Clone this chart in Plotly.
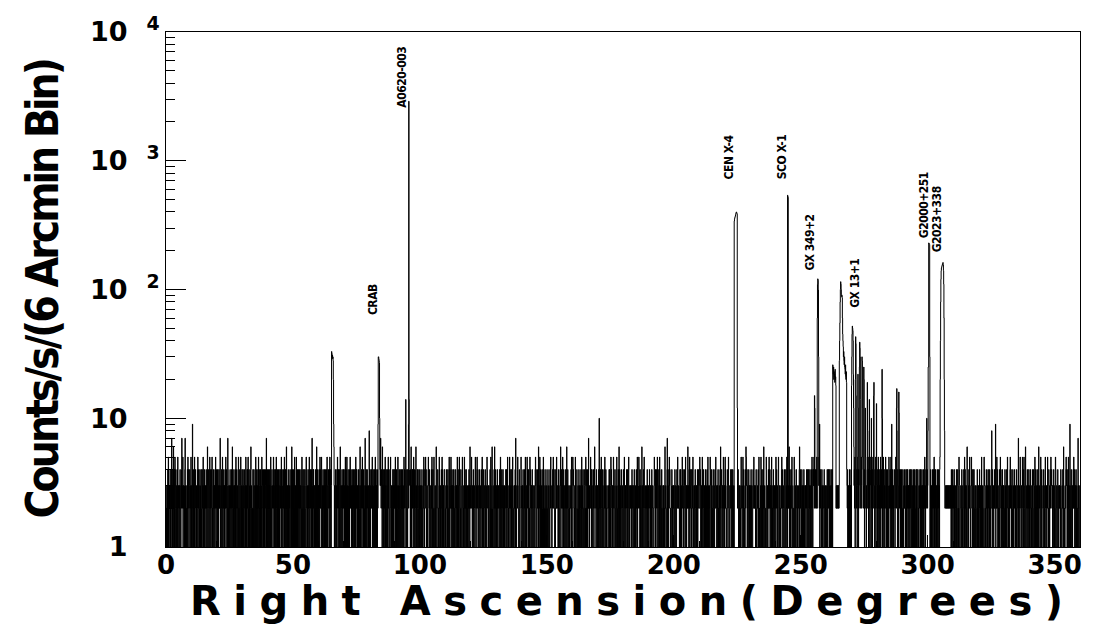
import math
import plotly.graph_objects as go

# ---- data: counts per 6-arcmin (0.1 deg) bin; one row per 10 degrees ----
noise_rows = [
    "3212331425 1232314213 2371421316 3241251243 2132415232 1323142213 2473235132 3213471312 2132415243 1234213253",  # 0
    "1321932413 2153124321 3212451423 3124213342 1342315213 2413223142 3126312431 2251423124 3512132413 2314253124",  # 10
    "2314213142 3247213124 2451232413 1324251243 2137412312 3142312241 3621312423 1324151342 2312451213 4213521314",  # 20
    "3124213243 1231523124 2415213431 3124612312 2143124213 3215231423 1342512134 2413213524 3121432413 2431371234",  # 30
    "1324132413 2153213432 3125231241 2413521314 3214132142 2341521432 1324215124 3142613213 2413213243 3124162412",  # 40
    "2413215431 3125132412 1423142313 2431253124 3124213432 1253213124 2314521342 3142173124 2413213214 3216231423",  # 50
    "1324215243 2451213142 3124132413 2143521324 3214251243 1324213124 2431321432 3124253124 2143126413 3214231342",  # 60
    "2413215124 3152312431 2314253243 1324132142 3214231524 2413213142 3124621324 2145231413 3124713243 1342312132",  # 70
    "8124213243 2451321342 3142512413 2314213124 1324213243 3162312413 2415213124 3124152432 2143521312 3214231423",  # 80
    "2415213142 3125231243 1342132413 2413213524 3124132142 2143215243 3214261324 2431253142 3124621324 2143213413",  # 90
    "2231413322 1342251214 3352421231 2245331423 1223142531 3421253312 2132641122 4312215231 3122431514 2313214432",  # 100
    "1233241321 4221353142 2351324231 3142221344 2132314512 3214153321 2431123531 3122152413 2341322131 1324231623",  # 110
    "3225431322 1423321253 2132452341 3311242132 2243151213 4123321421 2321543232 1332214215 3213621132 2142613241",  # 120
    "3123241132 2311432513 1242331421 3213122341 2431253312 1325413243 3141253112 2323141732 1232453221 3421122353",  # 130
    "2132314221 3241153132 1352431241 2215342132 3142213321 2231453422 1342231621 3253142231 2421335142 1233124312",  # 140
    "3212431132 2143253321 1324352243 3121243252 2332141331 1243613422 3251314132 2132413261 3241123312 1322341531",  # 150
    "2253432121 3152213341 1233124213 2321431522 3142212431 2215341221 4132723312 2352431421 1324213362 3221142313",  # 160
    "3121422313 2413521142 1322143251 3241213322 2132341412 1353421231 3254122341 2231354212 3142631423 1223413321",  # 170
    "2341253132 3122431241 1452213323 2213142331 3321421213 1242315122 2354231421 3122613213 4215321132 2132241331",  # 180
    "1323421231 3214123322 2135432413 3422153241 1231542312 2143221331 3312162231 1224713412 3253421121 2342131232",  # 190
    "3122413321 1342253232 2213431421 3125324312 2432135213 1323264231 3251423341 2142352213 1332421131 3214123422",  # 200
    "2253341321 3152212431 1323142213 2431521322 3125431241 2213342131 1342253321 3231421213 2142613342 1323154231",  # 210
    "3252431122 2341253321 1322431242 3142213132 2213341421 1234213312 3121352231 2352413122 1432653341 3221142313",  # 220
    "2132413321 1342253232 3213421123 2241351212 1325413431 3142612321 2213541132 1324253241 3231451312 2142313221",  # 230
    "3252431132 1453213321 2132452341 3321143212 2413253132 1232613421 3142253312 2213541231 1342213122 3221461342",  # 240
    "2312431321 3142213232 1324313421 2431324213 3241532143 4352413243 3425242532 4352413243 3124213232 2143213312",  # 250
    "3212431342 2431342132 3142413254 5454545452 3232332323 2354545454 5454545454 5454545454 5432413213 2142313241",  # 260
    "2314325143 3425134253 2413523142 3524132453 2431543213 3142354213 2314253142 3215432142 2413524313 3142351423",  # 270
    "2314253142 3142513243 2413253142 3124523413 2143213542 3214253132 2413213243 3124532143 2143213524 3214231432",  # 280
    "2143312242 3221413142 2413231324 1342312431 2314133142 3122431412 2431213324 3142321413 2314213252 3124252342",  # 290
    "3122313241 2413213142 3124251412 2413213142 3124231412 2413213142 3232232323 3223232323 3232322323 2314213241",  # 300
    "1322413212 3214213341 2135431122 3312421231 2243151423 1321362212 3142253321 2253431242 1342213123 3221341231",  # 310
    "2312431132 3152213321 1353412213 2241331342 3121423122 2283142231 1324223912 3252431321 2143125342 1322413231",  # 320
    "3221431322 1423521213 2132452341 3311242132 2243131213 4123321721 2321543232 1335214215 3213461132 2142313241",  # 330
    "3122431321 2142213431 1352142213 2413321622 3212451241 1223342131 2345213321 3253421213 1242353342 2313124231",  # 340
    "2135413321 1342213232 3213421123 2241361212 1322453431 3142512321 9213341132 1324253241 3231421312 2172313221",  # 350
]

# runs of bins above the noise: first bin RA (deg) and the counts of consecutive 0.1-deg bins
src_start = [65.2, 83.5, 94.4, 95.5, 170.6, 223.8, 244.8, 255.4, 256.5, 257.4,
             262.6, 265.2, 270.0, 271.5, 272.5, 273.1, 274.1, 274.8, 275.4, 276.2,
             277.0, 277.8, 278.7, 279.8, 282.0, 285.8, 287.7, 288.6, 299.6,
             300.1, 304.8]
src_counts = [
    [33, 32, 30, 31, 29, 30, 28, 20, 9, 6],
    [9, 30, 30, 29, 28, 27, 10, 4, 3, 3, 7],
    [14],
    [9, 2900, 14],
    [10],
    [340, 352, 360, 366, 372, 380, 388, 395, 400, 398, 392, 385, 12],
    [540, 530, 520],
    [15, 12],
    [60, 110, 121, 118, 100, 30],
    [9],
    [26, 24, 22, 25, 20, 23, 21, 22, 19, 24, 20, 21, 18],
    [28, 40, 55, 80, 100, 115, 110, 100, 92, 88, 90, 86, 60, 45, 40, 36, 30, 33, 28, 26,
     30, 25, 24, 22, 26, 21, 20, 23, 19],
    [18, 30, 45, 52, 50, 48, 40, 22, 12, 6],
    [20, 43, 38, 15],
    [22, 12],
    [25, 39, 35, 30, 14],
    [30, 28, 12],
    [25, 20],
    [12],
    [19, 8],
    [14],
    [10],
    [15, 19],
    [13],
    [24, 10],
    [9],
    [12, 17, 8],
    [16, 11],
    [10],
    [8, 25, 25, 230, 228, 226, 224, 30],
    [5, 20, 40, 80, 120, 140, 147, 150, 152, 155, 158, 160, 162, 155, 140, 110, 60, 20, 8],
]

# source names written on the chart (RA, counts at the foot of the text)
label_names = ["CRAB", "A0620-003", "CEN X-4", "SCO X-1", "GX 349+2",
               "GX 13+1", "G2000+251", "G2023+338"]
label_ra = [81.3, 92.8, 221.9, 242.5, 253.6, 271.4, 298.3, 303.5]
label_counts = [61, 2500, 690, 690, 135, 69, 243, 186]

x_tick_vals = [0, 50, 100, 150, 200, 250, 300, 350]
y_tick_vals = [1, 10, 100, 1000, 10000]
y_tick_text = ["1", "10", "10\u00a0\u00a0<sup>2</sup>", "10\u00a0\u00a0<sup>3</sup>",
               "10\u00a0\u00a0<sup>4</sup>"]

# ---- build histogram ----
BIN = 0.1
counts = []
for row in noise_rows:
    d = row.replace(" ", "")
    assert len(d) == 100, (row, len(d))
    counts.extend(int(c) for c in d)
nbins = len(counts)
for start, seg in zip(src_start, src_counts):
    i0 = int(round(start / BIN))
    for k, c in enumerate(seg):
        counts[i0 + k] = c
edges = [round(i * BIN, 1) for i in range(nbins + 1)]
yvals = counts + [counts[-1]]

fig = go.Figure()
fig.add_trace(go.Scatter(x=edges, y=yvals, mode="lines",
                         line=dict(shape="hv", color="black", width=1),
                         hoverinfo="skip", showlegend=False))

pad = "<span style='color:rgba(0,0,0,0)'>\u00a0\u00a0<sup>0</sup></span>"
ytext = [t if "sup" in t else t + pad for t in y_tick_text]
minor_y = [m * 10 ** d for d in range(4) for m in range(2, 10)]

xtickfont = dict(family="DejaVu Sans", size=26, color="black", weight="bold")
ytickfont = dict(family="DejaVu Sans", size=27, color="black", weight="bold")

fig.update_layout(
    width=1098, height=624,
    margin=dict(l=166, r=18, t=28, b=77),
    paper_bgcolor="white", plot_bgcolor="white",
    xaxis=dict(range=[0, 360], showgrid=False, zeroline=False,
               showline=True, mirror=True, linecolor="black", linewidth=1,
               ticks="inside", ticklen=12, tickcolor="black",
               tickvals=x_tick_vals, ticktext=[str(v) for v in x_tick_vals],
               tickfont=xtickfont, ticklabelstandoff=-5,
               minor=dict(ticks="inside", ticklen=6, dtick=10, tickcolor="black")),
    yaxis=dict(type="log", range=[0, 4], showgrid=False, zeroline=False,
               showline=True, mirror=True, linecolor="black", linewidth=1,
               ticks="inside", ticklen=20, tickcolor="black",
               tickvals=y_tick_vals, ticktext=ytext, tickfont=ytickfont,
               minor=dict(ticks="inside", ticklen=9, tickvals=minor_y,
                          tickcolor="black")),
)

narrow = "DejaVu Sans Condensed, Liberation Sans"
label_font = dict(family=narrow, size=12, color="black", weight="bold")
for name, ra, c in zip(label_names, label_ra, label_counts):
    fig.add_annotation(x=ra, y=math.log10(c), xref="x", yref="y", yanchor="bottom",
                       xanchor="center",
                       text="<span style='letter-spacing:-0.5px'>" + name + "</span>",
                       textangle=-90, showarrow=False, font=label_font)

# axis titles
fig.add_annotation(
    xref="paper", yref="paper", x=0.5 + (633 - 623) / 914, y=-(601 - 547) / 519,
    xanchor="center", yanchor="middle", showarrow=False,
    text="<span style='letter-spacing:12.5px'>Right Ascension(Degrees)</span>",
    font=dict(family="DejaVu Sans", size=40, color="black", weight="bold"))
fig.add_annotation(
    xref="paper", yref="paper", x=-(166 - 42) / 914, y=0.5,
    xanchor="center", yanchor="middle", showarrow=False, textangle=-90,
    text="<span style='letter-spacing:-3px'>Counts/s/(6 Arcmin Bin)</span>",
    font=dict(family=narrow, size=44, color="black", weight="bold"))

fig.write_html("out.html")
